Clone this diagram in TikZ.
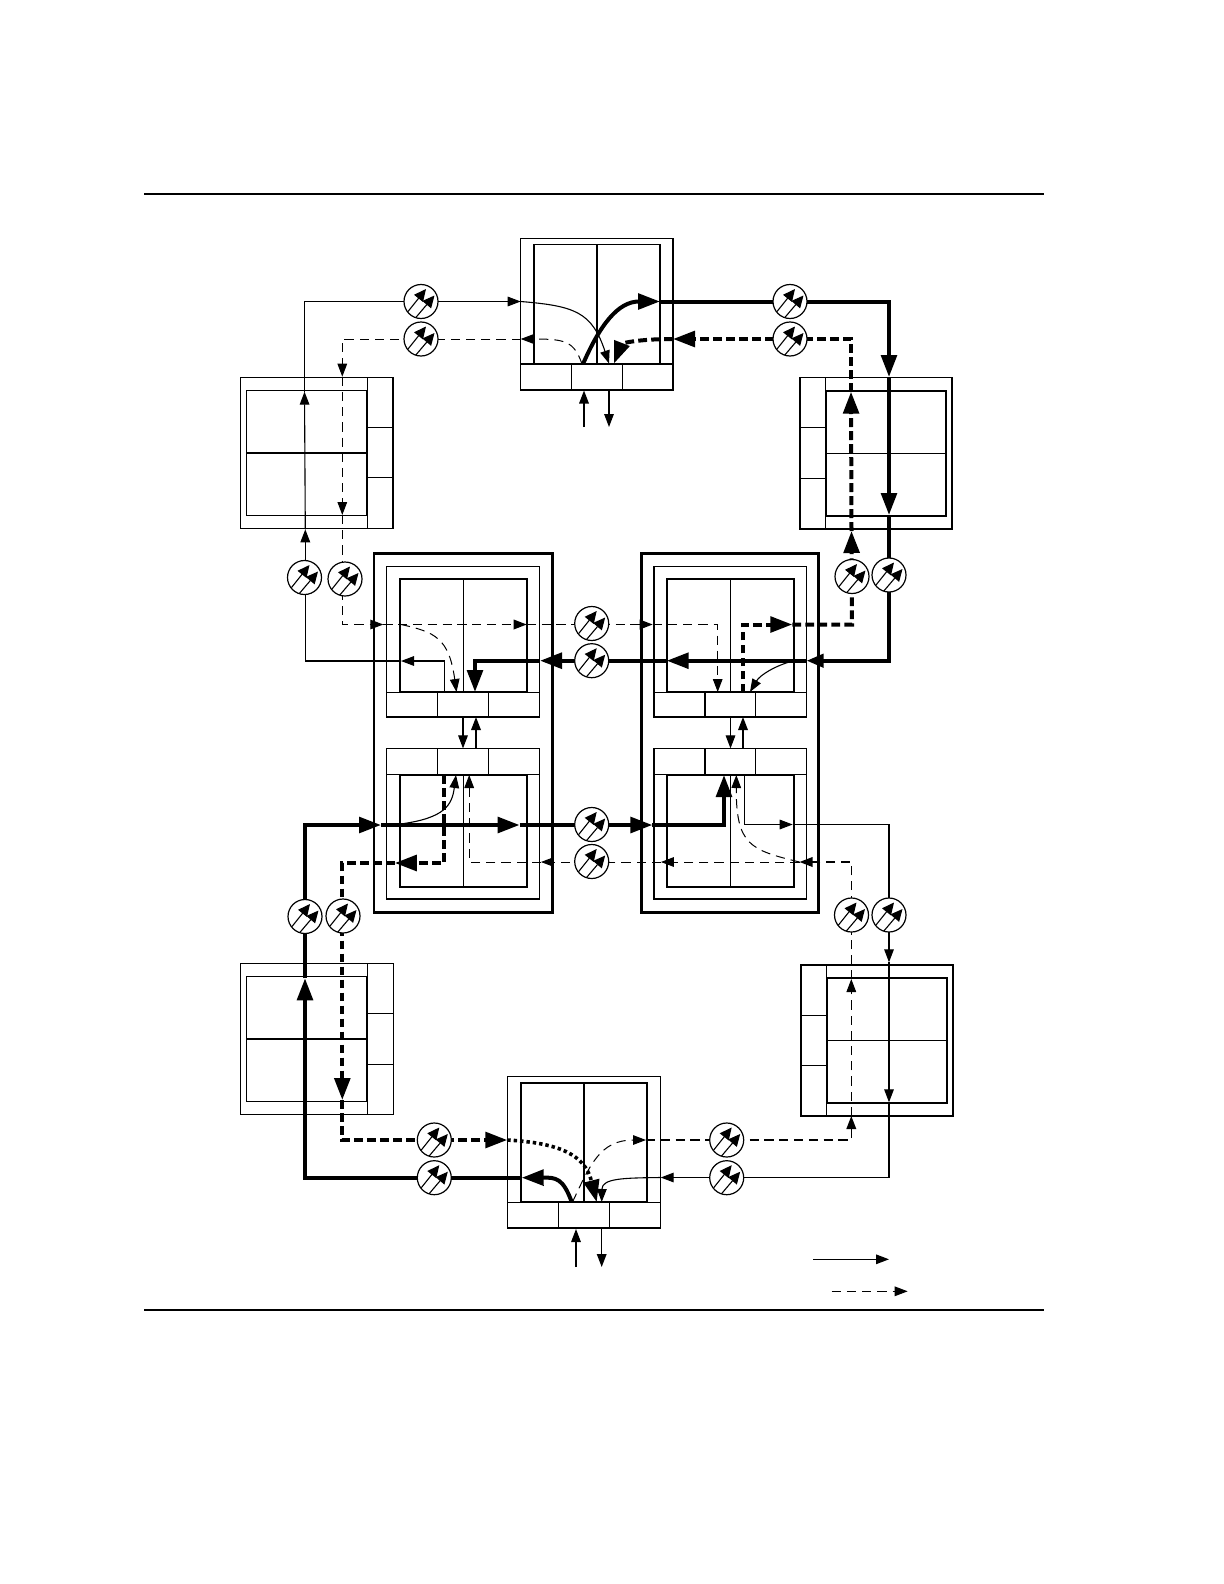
\documentclass[tikz,border=0pt]{standalone}
\usetikzlibrary{arrows.meta,backgrounds}
\newcommand{\bxn}[6][bthin]{\node[boxn,#1,minimum width={(#5-#3)*0.5pt},minimum height={(#6-#4)*0.5pt}] (#2) at ({(#3+#5)/2},{(#4+#6)/2}) {};}
\tikzset{
  boxn/.style={draw,rectangle,inner sep=0,outer sep=0},
  bthin/.style={line width=0.6pt},
  bmed/.style={line width=0.9pt},
  bhvy/.style={line width=1.4pt},
  fs/.style={line width=0.55pt},
  fm/.style={line width=0.7pt},
  ft/.style={line width=2pt},
  ds/.style={line width=0.5pt,dash pattern=on 4.6pt off 3pt},
  dm/.style={line width=0.75pt,dash pattern=on 4.6pt off 2.8pt},
  dt/.style={line width=2pt,dash pattern=on 4.4pt off 2.1pt},
  dot/.style={line width=1.8pt,dash pattern=on 1.7pt off 1.5pt},
  hs/.style={-{Triangle[length=6.5pt,width=4.8pt]}},
  hm/.style={-{Triangle[length=8.5pt,width=6.5pt]}},
  hb/.style={-{Triangle[length=11pt,width=7.8pt]}},
  ampn/.style={circle,draw,fill=white,line width=0.6pt,minimum size=17pt,inner sep=0,outer sep=0,
    path picture={
      \draw[line width=0.55pt,-{Triangle[length=6pt,width=5.6pt]}] ([shift={(-13,10)}]path picture bounding box.center) -- ([shift={(5,-12.5)}]path picture bounding box.center);
      \draw[line width=0.55pt,-{Triangle[length=6pt,width=5.6pt]}] ([shift={(-6,17)}]path picture bounding box.center) -- ([shift={(13.5,-6)}]path picture bounding box.center);
    }},
  rulen/.style={line width=1pt}
}
\begin{document}
\begin{tikzpicture}[x=0.5pt,y=-0.5pt]
\useasboundingbox (0,0) rectangle (1224,1584);
% page rules
\coordinate (r1a) at (144,194); \coordinate (r1b) at (1044,194);
\coordinate (r2a) at (144,1310); \coordinate (r2b) at (1044,1310);
\draw[rulen] (r1a) -- (r1b);
\draw[rulen] (r2a) -- (r2b);
% top router
\bxn{Touter}{520.7}{238.7}{673}{390}
\bxn[bmed]{Tin}{534}{244.5}{660}{364}
\bxn{Tc1}{520.7}{364}{571.7}{390}
\bxn{Tc2}{571.7}{364}{622.7}{390}
\bxn{Tc3}{622.7}{364}{673}{390}
\draw[bmed] (Tin.north) -- (Tin.south);
% left top router
\bxn{LTouter}{240.7}{377.3}{393.3}{528.3}
\bxn{LTin}{246.7}{390.3}{367}{515.3}
\bxn{LTc1}{367.7}{377.3}{393.3}{427.3}
\bxn{LTc2}{367.7}{427.3}{393.3}{477.7}
\bxn{LTc3}{367.7}{477.7}{393.3}{528.3}
\draw[bmed] (LTin.west) -- (LTin.east);
\draw[line width=1.1pt] (LTouter.north east) -- (LTouter.south east);
\draw[bmed] (LTin.north east) -- (LTin.south east);
% right top router
\bxn{RTouter}{800}{377.3}{952}{529}
\bxn[bmed]{RTin}{825.7}{391}{946}{515.7}
\bxn{RTc1}{800}{377.3}{825.7}{427.7}
\bxn{RTc2}{800}{427.7}{825.7}{478.3}
\bxn{RTc3}{800}{478.3}{825.7}{529}
\draw[bthin] (RTin.west) -- (RTin.east);
% left bottom router
\bxn{LBouter}{240.7}{963.3}{393.3}{1114.3}
\bxn{LBin}{246.7}{976.3}{367}{1101.7}
\bxn{LBc1}{367.7}{963.3}{393.3}{1013.3}
\bxn{LBc2}{367.7}{1013.3}{393.3}{1064.3}
\bxn{LBc3}{367.7}{1064.3}{393.3}{1114.3}
\draw[bthin] (LBin.west) -- (LBin.east);
% right bottom router
\bxn[bmed]{RBouter}{800.7}{965}{953.3}{1116}
\bxn[bmed]{RBin}{827.3}{977.7}{947.3}{1102.7}
\bxn{RBc1}{800.7}{965}{826.7}{1015.3}
\bxn{RBc2}{800.7}{1015.3}{826.7}{1065.3}
\bxn{RBc3}{800.7}{1065.3}{826.7}{1116}
\draw[bthin] (RBin.west) -- (RBin.east);
% bottom router
\bxn{Bouter}{507.7}{1076.7}{660.3}{1228}
\bxn[bmed]{Bin}{520.7}{1082.7}{647.3}{1202.3}
\bxn{Bc1}{507.7}{1202.3}{558.3}{1228}
\bxn{Bc2}{558.3}{1202.3}{609.3}{1228}
\bxn{Bc3}{609.3}{1202.3}{660.3}{1228}
\draw[bmed] (Bin.north) -- (Bin.south);
% central left module
\bxn[bhvy]{Mlo}{374}{553.3}{552.7}{912.5}
\bxn{MlUm}{386.7}{566.7}{539.3}{717}
\bxn[bmed]{MlUin}{400}{579}{526.7}{692.3}
\bxn{MlUc1}{386.7}{692.3}{437.7}{717}
\bxn{MlUc2}{437.7}{692.3}{488.7}{717}
\bxn{MlUc3}{488.7}{692.3}{539.3}{717}
\draw[bthin] (MlUin.north) -- (MlUin.south);
\bxn{MlDm}{386.7}{748.4}{539.3}{899}
\bxn[bmed]{MlDin}{400}{774.6}{526.7}{887}
\bxn{MlDc1}{386.7}{748.4}{437.7}{774.6}
\bxn{MlDc2}{437.7}{748.4}{488.7}{774.6}
\bxn{MlDc3}{488.7}{748.4}{539.3}{774.6}
\draw[bthin] (MlDin.north) -- (MlDin.south);
% central right module
\bxn[bhvy]{Mro}{641.5}{553.3}{818.5}{912.5}
\bxn{MrUm}{654}{566.7}{806.7}{717}
\bxn[bmed]{MrUin}{666.7}{579}{794}{692.3}
\bxn{MrUc1}{654}{692.3}{705}{717}
\bxn{MrUc2}{705}{692.3}{755.7}{717}
\bxn{MrUc3}{755.7}{692.3}{806.7}{717}
\draw[bthin] (MrUin.north) -- (MrUin.south);
\bxn{MrDm}{654}{748.4}{806.7}{899}
\bxn[bmed]{MrDin}{666.7}{774.6}{794}{887}
\bxn{MrDc1}{654}{748.4}{705}{774.6}
\bxn{MrDc2}{705}{748.4}{755.7}{774.6}
\bxn{MrDc3}{755.7}{748.4}{806.7}{774.6}
\draw[bthin] (MrDin.north) -- (MrDin.south);
% amplifiers
\node[ampn] (aT1L) at (421,301.5) {};
\node[ampn] (aT2L) at (421,339) {};
\node[ampn] (aT1R) at (790,301.5) {};
\node[ampn] (aT2R) at (790,339) {};
\node[ampn] (aLa) at (304.5,577.5) {};
\node[ampn] (aLb) at (345,579) {};
\node[ampn] (aRa) at (852,576.5) {};
\node[ampn] (aRb) at (889,575) {};
\node[ampn] (aMa) at (591.7,623.5) {};
\node[ampn] (aMb) at (591.7,660.7) {};
\node[ampn] (aNa) at (591.7,824.5) {};
\node[ampn] (aNb) at (591.7,861.5) {};
\node[ampn] (aPa) at (305,916.5) {};
\node[ampn] (aPb) at (343,916) {};
\node[ampn] (aQa) at (851.5,915) {};
\node[ampn] (aQb) at (889,915) {};
\node[ampn] (aBa) at (434.3,1140) {};
\node[ampn] (aBb) at (434.3,1177.7) {};
\node[ampn] (aDa) at (726.7,1140) {};
\node[ampn] (aDb) at (726.7,1177.7) {};
% flow vertices
\coordinate (a1) at (444.3,692.3); \coordinate (a2) at (444.3,661); \coordinate (a3) at (401,661);
\coordinate (a4) at (305.3,661); \coordinate (a5) at (305.3,529.3); \coordinate (a6) at (304.5,391.7);
\coordinate (a7) at (304.5,301.5); \coordinate (a8) at (520.7,301.5); \coordinate (a9) at (609,363.5);
\coordinate (b1) at (583,364); \coordinate (b2) at (660,301.5); \coordinate (b3) at (889,301.5);
\coordinate (b4) at (889,377); \coordinate (b5) at (889,515); \coordinate (b6) at (889,660.7);
\coordinate (b7) at (806.5,660.7); \coordinate (b8) at (666.7,660.7); \coordinate (b9) at (540,660.7);
\coordinate (b10) at (475,660.7); \coordinate (b11) at (475,692);
\coordinate (c1) at (742.7,692.3); \coordinate (c2) at (742.7,624.5); \coordinate (c3) at (792.3,624.5);
\coordinate (c4) at (852,624.5); \coordinate (c5) at (851.5,531); \coordinate (c6) at (851,391.7);
\coordinate (c7) at (851,339); \coordinate (c8) at (673,339); \coordinate (c9) at (614,363.5);
\coordinate (d1) at (582,364); \coordinate (d2) at (520.7,339); \coordinate (d3) at (342.3,339);
\coordinate (d4) at (342.3,376.7); \coordinate (d5) at (342.3,515); \coordinate (d6) at (342.3,624.5);
\coordinate (d7) at (383.3,624.5); \coordinate (d8) at (526.7,624.5); \coordinate (d9) at (652.7,624.5);
\coordinate (d10) at (717.7,624.5); \coordinate (d11) at (717.7,692);
\coordinate (e1) at (401,624.5); \coordinate (e2) at (456.5,692);
\coordinate (f1) at (791,661.5); \coordinate (f2) at (750,692);
\coordinate (g1) at (571.7,1202); \coordinate (g2) at (521.7,1177.7); \coordinate (g3) at (305,1177.7);
\coordinate (g4) at (305,978.3); \coordinate (g5) at (305,825); \coordinate (g6) at (381,825);
\coordinate (g7) at (519.6,825); \coordinate (g8) at (652.4,825); \coordinate (g9) at (724,825);
\coordinate (g10) at (724,775);
\coordinate (h1) at (400.6,824); \coordinate (h2) at (456,775);
\coordinate (i1) at (443.8,775); \coordinate (i2) at (443.8,863); \coordinate (i3) at (394.8,863);
\coordinate (i4) at (342.3,863); \coordinate (i5) at (342.3,1100); \coordinate (i6) at (342.3,1140);
\coordinate (i7) at (507.3,1140); \coordinate (i8) at (596.7,1202);
\coordinate (j1) at (572.5,1202); \coordinate (j2) at (646,1140); \coordinate (j3) at (851.3,1140);
\coordinate (j4) at (851.3,1116); \coordinate (j5) at (851.3,979); \coordinate (j6) at (851.3,862);
\coordinate (j7) at (799.5,862); \coordinate (j8) at (660.9,862); \coordinate (j9) at (540.9,862);
\coordinate (j10) at (469.2,862); \coordinate (j11) at (469.2,775);
\coordinate (k2) at (736.3,775);
\coordinate (l1) at (744.4,775); \coordinate (l2) at (744.4,824.5); \coordinate (l3) at (792.7,824.5);
\coordinate (l4) at (889,824.5); \coordinate (l5) at (889,962.3); \coordinate (l6) at (889,1102.3);
\coordinate (l7) at (889,1177.5); \coordinate (l8) at (660.7,1177.5); \coordinate (l9) at (601.7,1202);
% connectors, behind the amplifiers
\begin{pgfonlayer}{background}
% flow a
\draw[fs,hs] (a1) -- (a2) -- (a3);
\draw[fm,hs] (a3) -- (a4) -- (a5);
\draw[fs,hs] (a5) -- (a6);
\draw[fs,hs] (a6) -- (a7) -- (a8);
\draw[fs,hs] (a8) .. controls (575,306) and (592,312) .. (a9);
% flow b
\draw[ft,hb] (b1) .. controls (600,325) and (618,301.5) .. (b2);
\draw[ft,hb] (b2) -- (b3) -- (b4);
\draw[ft,hb] (b4) -- (b5);
\draw[ft,hm] (b5) -- (b6) -- (b7);
\draw[ft,hb] (b7) -- (b8);
\draw[ft,hb] (b8) -- (b9);
\draw[ft,hb] (b9) -- (b10) -- (b11);
% flow c
\draw[dt,hb] (c1) -- (c2) -- (c3);
\draw[dt,hb] (c3) -- (c4) -- (c5);
\draw[dt,hb] (c5) -- (c6);
\draw[dt,hb] (c6) -- (c7) -- (c8);
\draw[dt,hb] (c8) .. controls (640,339) and (622,343) .. (c9);
% flow d
\draw[ds,hs] (d1) .. controls (574,341) and (565,339) .. (d2);
\draw[ds,hs] (d2) -- (d3) -- (d4);
\draw[ds,hs] (d4) -- (d5);
\draw[ds,hs] (d5) -- (d6) -- (d7);
\draw[dm,hs] (d7) -- (d8);
\draw[dm,hs] (d8) -- (d9);
\draw[ds,hs] (d9) -- (d10) -- (d11);
\draw[ds,hs] (e1) .. controls (435,632) and (449,638) .. (e2);
\draw[fs,hs] (f1) .. controls (775,666) and (760,675) .. (f2);
% flow g
\draw[ft,hb] (g1) .. controls (563,1178) and (556,1177.5) .. (g2);
\draw[ft,hb] (g2) -- (g3) -- (g4);
\draw[ft,hb] (g4) -- (g5) -- (g6);
\draw[ft,hb] (g6) -- (g7);
\draw[ft,hb] (g7) -- (g8);
\draw[ft,hb] (g8) -- (g9) -- (g10);
\draw[fs,hs] (h1) .. controls (445,818) and (452,805) .. (h2);
% flow i
\draw[dt,hb] (i1) -- (i2) -- (i3);
\draw[dt,hb] (i3) -- (i4) -- (i5);
\draw[dt,hb] (i5) -- (i6) -- (i7);
\draw[dot,hb] (i7) .. controls (560,1143) and (585,1155) .. (i8);
% flow j
\draw[ds,hs] (j1) .. controls (590,1165) and (600,1140) .. (j2);
\draw[dm,hs] (j2) -- (j3) -- (j4);
\draw[ds,hs] (j4) -- (j5);
\draw[dm,hs] (j5) -- (j6) -- (j7);
\draw[ds,hs] (j7) -- (j8);
\draw[ds,hs] (j8) -- (j9);
\draw[ds,hs] (j9) -- (j10) -- (j11);
\draw[ds,hs] (j7) .. controls (750,850) and (736,845) .. (k2);
% flow l
\draw[fs,hs] (l1) -- (l2) -- (l3);
\draw[fs,hs] (l3) -- (l4) -- (l5);
\draw[fs,hs] (l5) -- (l6);
\draw[fs,hs] (l6) -- (l7) -- (l8);
\draw[fs,hs] (l8) .. controls (625,1178) and (602,1178) .. (l9);
\end{pgfonlayer}
% ports
\coordinate (pT1) at (584,427); \coordinate (pT1e) at (584,390.5);
\coordinate (pT2s) at (609,390.5); \coordinate (pT2) at (609,427);
\draw[fm,hs] (pT1) -- (pT1e);
\draw[fs,hs] (pT2s) -- (pT2);
\coordinate (pB1) at (576,1267); \coordinate (pB1e) at (576,1229);
\coordinate (pB2s) at (601.7,1228); \coordinate (pB2) at (601.7,1267);
\draw[fs,hs] (pB1) -- (pB1e);
\draw[fm,hs] (pB2s) -- (pB2);
% links between the stacked routers
\coordinate (lu1) at (463,717); \coordinate (ld1) at (463,748.4);
\coordinate (lu2) at (476,717); \coordinate (ld2) at (476,748.4);
\coordinate (ru1) at (730.5,717); \coordinate (rd1) at (730.5,748.4);
\coordinate (ru2) at (743,717); \coordinate (rd2) at (743,748.4);
\draw[fs,hs] (lu1) -- (ld1);
\draw[fm,hs] (ld2) -- (lu2);
\draw[fs,hs] (ru1) -- (rd1);
\draw[fm,hs] (rd2) -- (ru2);
% legend
\coordinate (k1a) at (813.3,1259.3); \coordinate (k1b) at (889,1259.3);
\coordinate (k2a) at (831.7,1291.3); \coordinate (k2b) at (907.7,1291.3);
\draw[fs,hs] (k1a) -- (k1b);
\draw[ds,hs] (k2a) -- (k2b);
\end{tikzpicture}
\end{document}
